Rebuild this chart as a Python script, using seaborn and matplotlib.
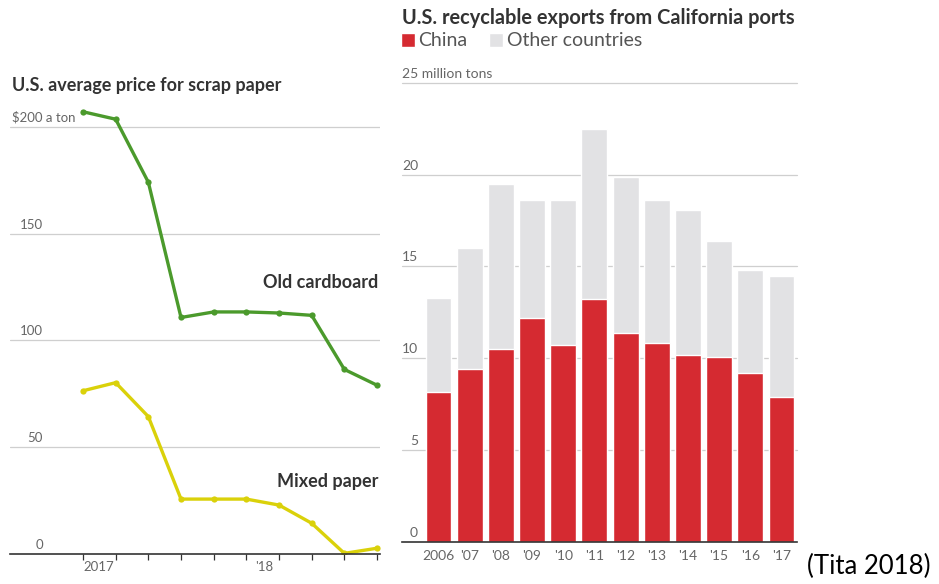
import matplotlib
matplotlib.use('Agg')
import matplotlib.pyplot as plt
import seaborn as sns
import pandas as pd
from matplotlib.patches import Patch

sns.set_theme(style='white')
plt.rcParams['font.family'] = ['Lato', 'DejaVu Sans']

# ---- Left chart data: U.S. average price for scrap paper ($ a ton)
price_period = list(range(10))
old_cardboard = [207, 203.5, 174, 110.7, 113.3, 113.3, 112.8, 111.7, 86.4, 79]
mixed_paper = [76.4, 80.2, 64.3, 25.7, 25.7, 25.7, 22.9, 14.4, 0.3, 2.7]
price_ticks = [0, 50, 100, 150, 200]
price_tick_labels = ['0', '50', '100', '150', '$200 a ton']
period_labels = {1: '2017', 5: "'18"}

# ---- Right chart data: U.S. recyclable exports from California ports (million tons)
years = ['2006', "'07", "'08", "'09", "'10", "'11", "'12", "'13", "'14", "'15", "'16", "'17"]
china = [8.17, 9.39, 10.48, 12.17, 10.72, 13.21, 11.39, 10.81, 10.17, 10.08, 9.21, 7.90]
total = [13.3, 16.0, 19.5, 18.6, 18.6, 22.5, 19.9, 18.6, 18.1, 16.4, 14.8, 14.5]
export_ticks = [0, 5, 10, 15, 20, 25]
export_tick_labels = ['0', '5', '10', '15', '20', '25 million tons']

GREEN = '#4b9a2c'
YELLOW = '#dad10a'
RED = '#d52a31'
GRAY = '#e2e2e4'
GRID = '#cfcfcf'
TXT = '#333333'
LBL = '#666666'

W, H = 939, 584
fig = plt.figure(figsize=(W / 100, H / 100), dpi=100)
fig.patch.set_facecolor('white')


def ax_px(l, t, r, b):
    return fig.add_axes([l / W, 1 - b / H, (r - l) / W, (b - t) / H])


def fx(px):
    return px / W


def fy(py):
    return 1 - py / H


# ================= Left chart =================
L_l, L_t, L_r, L_b = 10, 100, 380, 554
axL = ax_px(L_l, L_t, L_r, L_b)
x0, dx = 83, 32.67
axL.set_xlim((L_l - x0) / dx, (L_r - x0) / dx)
ppu = 2.1365
axL.set_ylim(0, (L_b - L_t) / ppu)
for s in ['top', 'right', 'left']:
    axL.spines[s].set_visible(False)
axL.spines['bottom'].set_color(TXT)
axL.spines['bottom'].set_linewidth(1.2)
axL.set_facecolor('white')

for v in price_ticks[1:]:
    axL.axhline(v, color=GRID, lw=0.9, zorder=0)

df_price = pd.DataFrame({'period': price_period * 2,
                         'price': old_cardboard + mixed_paper,
                         'grade': ['Old cardboard'] * 10 + ['Mixed paper'] * 10})
sns.lineplot(data=df_price, x='period', y='price', hue='grade',
             palette={'Old cardboard': GREEN, 'Mixed paper': YELLOW},
             marker='o', markersize=4.5, markeredgewidth=0, lw=2.4,
             legend=False, ax=axL)

axL.set_xticks(price_period)
axL.set_xticklabels([''] * 10)
axL.set_xticks([5], minor=True)
axL.tick_params(axis='x', which='major', length=4, width=0.9, color=TXT, direction='out', bottom=True)
axL.tick_params(axis='x', which='minor', length=9, width=1.1, color=TXT, direction='out', bottom=True)
axL.set_yticks([])
axL.set_xlabel('')
axL.set_ylabel('')

trL = axL.get_yaxis_transform()
for v, lab in zip(price_ticks, price_tick_labels):
    if lab.startswith('$'):
        axL.text((12 - L_l) / (L_r - L_l), v + 3 / ppu, lab, transform=trL,
                 ha='left', va='bottom', fontsize=9.5, color=LBL)
    else:
        axL.text((43 - L_l) / (L_r - L_l), v + 3 / ppu, lab, transform=trL,
                 ha='right', va='bottom', fontsize=9.5, color=LBL)

for i, lab in period_labels.items():
    if i == 1:
        fig.text(fx(x0 + dx * i - 2), fy(567), lab, ha='right', va='center', fontsize=9.5, color=LBL)
    else:
        fig.text(fx(x0 + dx * i + 9), fy(567), lab, ha='left', va='center', fontsize=9.5, color=LBL)

fig.text(fx(378), fy(283), 'Old cardboard', ha='right', va='center',
         fontsize=13, fontweight='bold', color=TXT)
fig.text(fx(378), fy(482), 'Mixed paper', ha='right', va='center',
         fontsize=13, fontweight='bold', color=TXT)
fig.text(fx(12), fy(85), 'U.S. average price for scrap paper', ha='left', va='center',
         fontsize=13, fontweight='bold', color=TXT)

# ================= Right chart =================
R_l, R_t, R_r, R_b = 402, 83, 797, 541.7
axR = ax_px(R_l, R_t, R_r, R_b)
bx0, bdx = 438.5, 31.18

sns.barplot(x=years, y=total, color=GRAY, width=0.83, saturation=1, ax=axR, zorder=2)
sns.barplot(x=years, y=china, color=RED, width=0.83, saturation=1, ax=axR, zorder=3)
axR.set_xlim((R_l - bx0) / bdx, (R_r - bx0) / bdx)
axR.set_ylim(0, 25)
for s in ['top', 'right', 'left']:
    axR.spines[s].set_visible(False)
axR.spines['bottom'].set_color(TXT)
axR.spines['bottom'].set_linewidth(1.2)
axR.spines['bottom'].set_zorder(5)
axR.set_facecolor('none')
for v in export_ticks[1:]:
    axR.axhline(v, color=GRID, lw=0.9, zorder=0.5, clip_on=False)
axR.set_yticks([])
axR.set_xlabel('')
axR.set_ylabel('')
axR.tick_params(axis='x', length=0, pad=6, labelsize=10, labelcolor=LBL)

rppu = (R_b - R_t) / 25
trR = axR.get_yaxis_transform()
for v, lab in zip(export_ticks, export_tick_labels):
    if 'million' in lab:
        axR.text(0, v + 3 / rppu, lab, transform=trR, ha='left', va='bottom',
                 fontsize=10, color=LBL)
    else:
        axR.text((418 - R_l) / (R_r - R_l), v + 3 / rppu, lab, transform=trR,
                 ha='right', va='bottom', fontsize=10, color=LBL)

fig.text(fx(402), fy(18), 'U.S. recyclable exports from California ports', ha='left', va='center',
         fontsize=14.4, fontweight='bold', color=TXT)
fig.legend(handles=[Patch(facecolor=RED, label='China'),
                    Patch(facecolor=GRAY, label='Other countries')],
           loc='center left', bbox_to_anchor=(fx(401), fy(41)), ncol=2, frameon=False,
           handlelength=0.7, handleheight=0.7, handletextpad=0.2, columnspacing=1.1,
           borderpad=0, borderaxespad=0, fontsize=14, labelcolor='#555555')

fig.text(fx(807), fy(566), '(Tita 2018)', ha='left', va='center', fontsize=18.5, color='black')

fig.savefig('out.png', dpi=100, facecolor='white')
